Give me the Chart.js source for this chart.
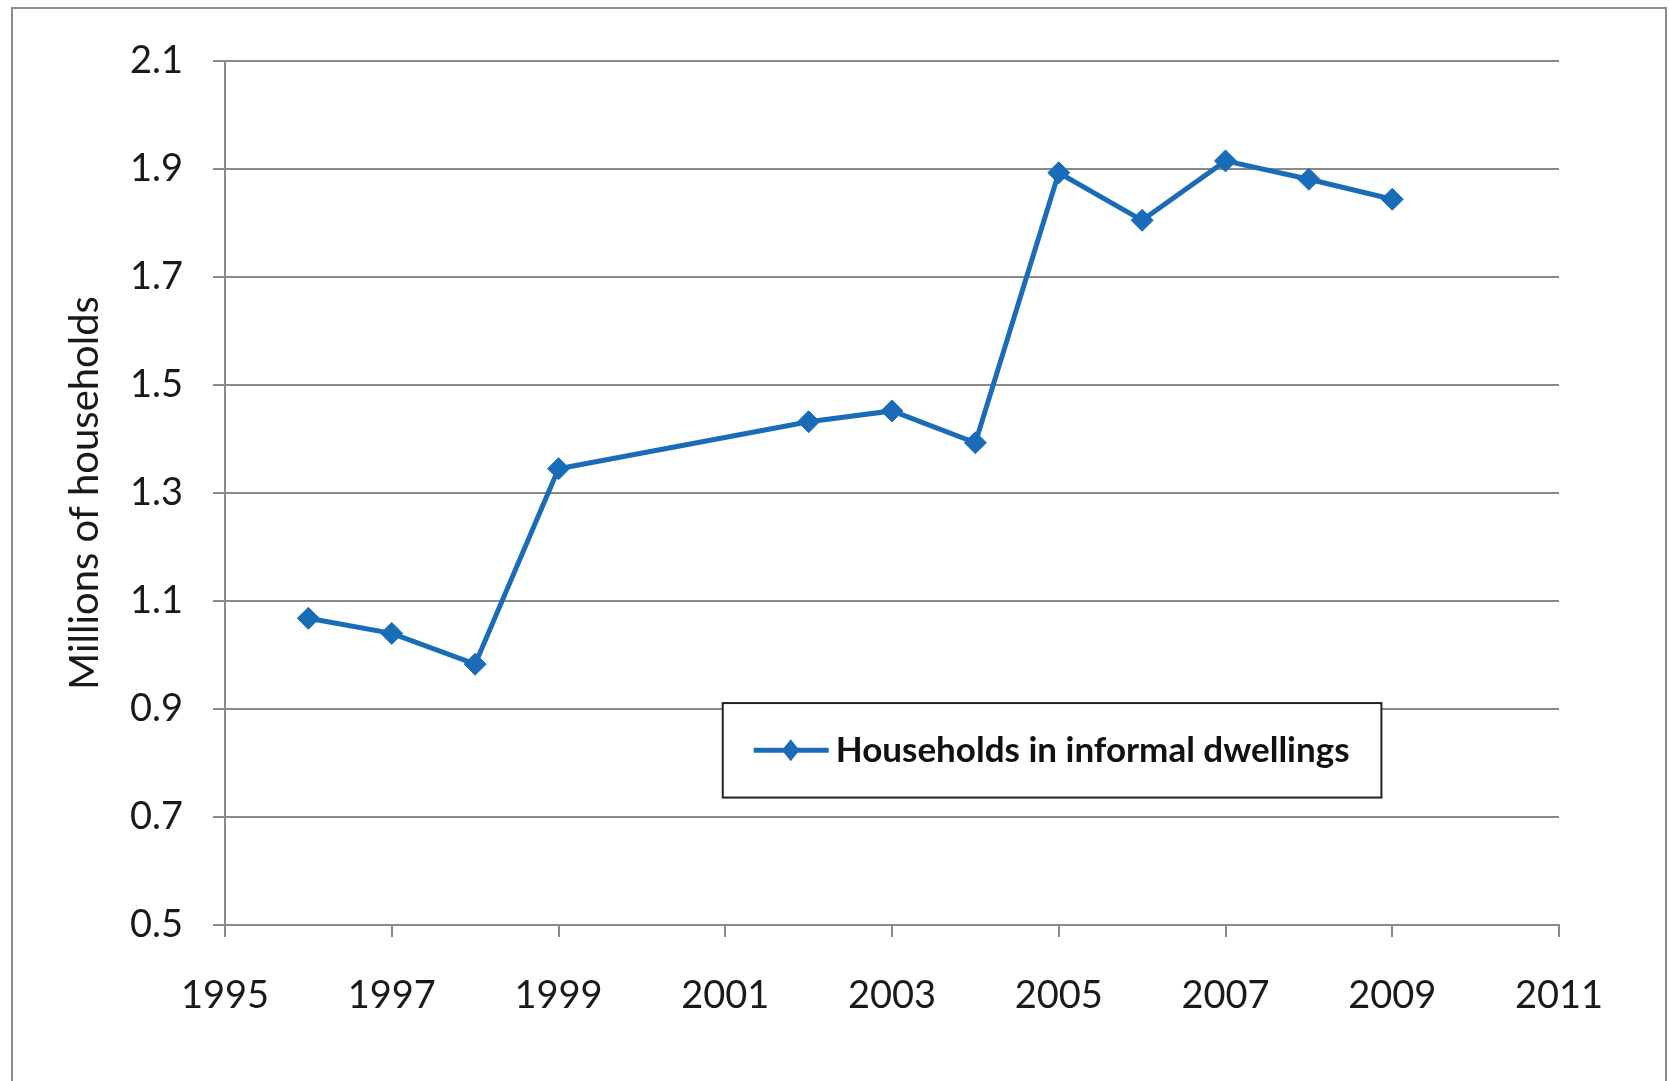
<!DOCTYPE html>
<html>
<head>
<meta charset="utf-8">
<script src="https://cdn.jsdelivr.net/npm/chart.js@4.4.1/dist/chart.umd.min.js"></script>
<style>
  html, body { margin: 0; padding: 0; background: #ffffff; }
  #wrap { width: 1669px; height: 1081px; position: relative; }
</style>
</head>
<body>
<div id="wrap"><canvas id="c" width="1669" height="1081"></canvas></div>
<script>
const years = [1996, 1997, 1998, 1999, 2002, 2003, 2004, 2005, 2006, 2007, 2008, 2009];
const households = [1.068, 1.040, 0.983, 1.345, 1.432, 1.452, 1.393, 1.893, 1.805, 1.915, 1.881, 1.844];
const seriesLabel = 'Households in informal dwellings';
const yAxisTitle = 'Millions of households';
const xTickValues = [1995, 1997, 1999, 2001, 2003, 2005, 2007, 2009, 2011];
const yTickValues = [0.5, 0.7, 0.9, 1.1, 1.3, 1.5, 1.7, 1.9, 2.1];

const BLUE = '#1B6CB8';
const GRID = '#8a8a8a';
const FONT = 'Lato, "Open Sans", sans-serif';

const framePlugin = {
  id: 'frame',
  beforeDraw(chart) {
    const ctx = chart.ctx;
    ctx.save();
    ctx.fillStyle = '#ffffff';
    ctx.fillRect(0, 0, chart.width, chart.height);
    ctx.strokeStyle = '#8c8c8c';
    ctx.lineWidth = 2;
    ctx.beginPath();
    ctx.moveTo(12, chart.height + 5);
    ctx.lineTo(12, 8);
    ctx.lineTo(1666, 8);
    ctx.lineTo(1666, chart.height + 5);
    ctx.stroke();
    ctx.restore();
  }
};

const legendBoxPlugin = {
  id: 'legendBox',
  afterDraw(chart) {
    const ctx = chart.ctx;
    const ds = chart.data.datasets[0];
    const xs = chart.scales.x, ys = chart.scales.y;
    // box anchored in data space
    const left = xs.getPixelForValue(2000.97);
    const right = xs.getPixelForValue(2008.87);
    const top = ys.getPixelForValue(0.911);
    const bottom = ys.getPixelForValue(0.736);
    ctx.save();
    ctx.fillStyle = '#ffffff';
    ctx.fillRect(left, top, right - left, bottom - top);
    ctx.strokeStyle = '#222222';
    ctx.lineWidth = 2;
    ctx.strokeRect(left, top, right - left, bottom - top);
    const cy = (top + bottom) / 2;
    const lx0 = left + 31, lx1 = left + 106;
    ctx.strokeStyle = ds.borderColor;
    ctx.lineWidth = ds.borderWidth;
    ctx.beginPath();
    ctx.moveTo(lx0, cy);
    ctx.lineTo(lx1, cy);
    ctx.stroke();
    const mx = left + 68, r = 11;
    ctx.fillStyle = ds.pointBackgroundColor;
    ctx.beginPath();
    ctx.moveTo(mx, cy - r);
    ctx.lineTo(mx + r * 0.8, cy);
    ctx.lineTo(mx, cy + r);
    ctx.lineTo(mx - r * 0.8, cy);
    ctx.closePath();
    ctx.fill();
    ctx.fillStyle = '#111111';
    ctx.font = 'bold 35px ' + FONT;
    ctx.textBaseline = 'middle';
    ctx.textAlign = 'left';
    ctx.fillText(ds.label, left + 113, cy);
    ctx.restore();
  }
};

new Chart(document.getElementById('c'), {
  type: 'line',
  data: {
    datasets: [{
      label: seriesLabel,
      data: years.map((y, i) => ({ x: y, y: households[i] })),
      borderColor: BLUE,
      backgroundColor: BLUE,
      pointBackgroundColor: BLUE,
      pointBorderColor: BLUE,
      borderWidth: 5,
      pointStyle: 'rectRot',
      pointRadius: 11,
      pointBorderWidth: 1,
      tension: 0,
      fill: false
    }]
  },
  options: {
    responsive: false,
    animation: false,
    devicePixelRatio: 1,
    layout: { padding: { left: 12, top: 61, right: 110, bottom: 0 } },
    plugins: {
      legend: { display: false },
      tooltip: { enabled: false }
    },
    scales: {
      x: {
        type: 'linear',
        min: 1995,
        max: 2011,
        afterBuildTicks(scale) { scale.ticks = xTickValues.map(v => ({ value: v })); },
        afterFit(scale) { scale.height = 1081 - 925; },
        border: { display: true, color: GRID, width: 2 },
        grid: { display: true, drawOnChartArea: false, drawTicks: true, tickLength: 12, color: GRID, lineWidth: 2 },
        ticks: {
          font: { family: FONT, size: 38 },
          color: '#1a1a1a',
          padding: 36,
          maxRotation: 0,
          callback: v => String(v)
        }
      },
      y: {
        type: 'linear',
        min: 0.5,
        max: 2.1,
        afterBuildTicks(scale) { scale.ticks = yTickValues.map(v => ({ value: v })); },
        afterFit(scale) { scale.width = 225 - 12; },
        border: { display: true, color: GRID, width: 2 },
        grid: { display: true, drawOnChartArea: true, drawTicks: true, tickLength: 12, color: GRID, lineWidth: 2 },
        title: {
          display: true,
          text: yAxisTitle,
          font: { family: FONT, size: 40 },
          color: '#1a1a1a',
          padding: { top: 49, bottom: 0 }
        },
        ticks: {
          font: { family: FONT, size: 38 },
          color: '#1a1a1a',
          padding: 30,
          callback: v => v.toFixed(1)
        }
      }
    }
  },
  plugins: [framePlugin, legendBoxPlugin]
});
</script>
</body>
</html>
